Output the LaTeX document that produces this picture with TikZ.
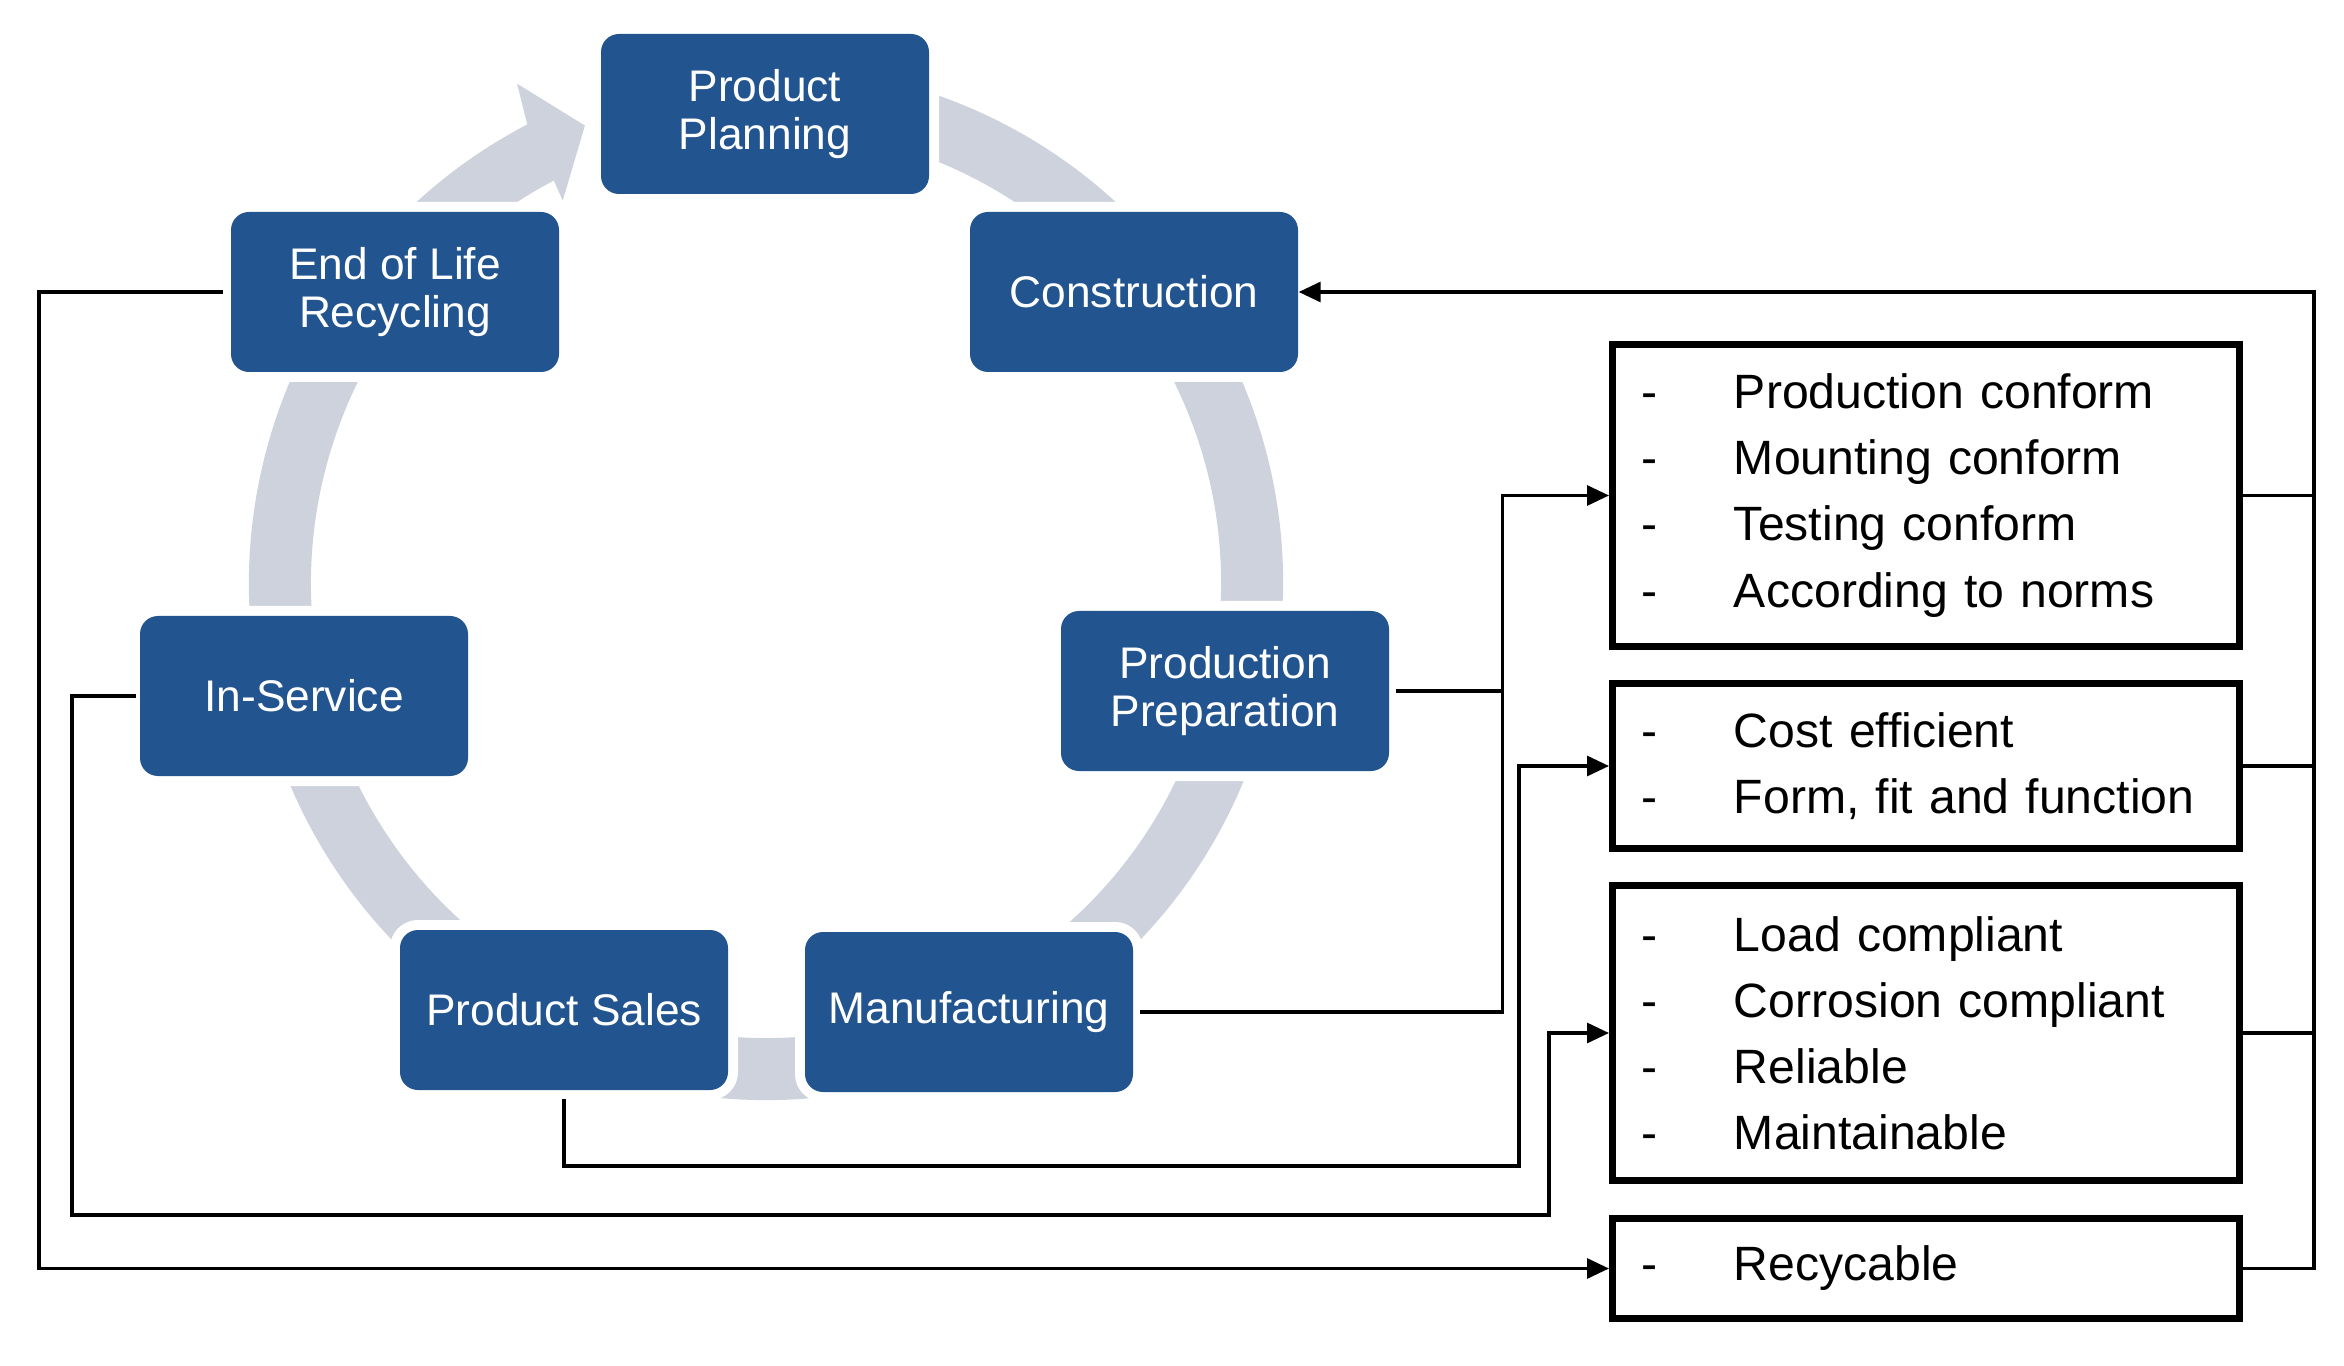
\documentclass[tikz,border=0pt]{standalone}
\usepackage{fontspec}
\setmainfont{Liberation Sans}
\usepackage{tikz}
\usetikzlibrary{arrows.meta}
\definecolor{phase}{RGB}{34, 84, 143}
\definecolor{ringgray}{RGB}{205, 210, 221}

\newcommand{\li}[1]{\makebox[0.93cm][l]{-}#1}

\begin{document}
\begin{tikzpicture}[
  stage/.style={rounded corners=0.18cm, fill=phase, preaction={draw=white, line width=0.2cm},
    text=white, minimum width=3.28cm, minimum height=1.6cm, align=center,
    font=\fontsize{12.6}{13.8}\selectfont},
  req/.style={draw, line width=2pt, minimum width=6.27cm, text width=5.7cm, align=left,
    font=\fontsize{13.7}{18.8}\selectfont},
  link/.style={line width=0.9pt, >={Triangle[length=0.22cm, width=0.2cm]}}
]
  \useasboundingbox (0, 0) rectangle (23.44, -13.66);

  \begin{scope}[shift={(7.66, -5.83)}]
    \fill[ringgray] (75:5.17) arc[start angle=75, end angle=-242.5, radius=5.17]
      -- (116.5:5.58) -- (111.6:4.92) -- (118:4.33) -- (117.8:4.55)
      arc[start angle=117.8, end angle=435, radius=4.55] -- cycle;
  \end{scope}

  \node[stage] (plan) at (7.65, -1.14) {Product\\Planning};
  \node[stage] (constr) at (11.34, -2.92) {Construction};
  \node[stage] (prep) at (12.25, -6.91) {Production\\Preparation};
  \node[stage] (manuf) at (9.69, -10.12) {Manufacturing};
  \node[stage] (sales) at (5.64, -10.10) {Product Sales};
  \node[stage] (service) at (3.04, -6.96) {In-Service};
  \node[stage] (eol) at (3.95, -2.92) {End of Life\\Recycling};

  \node[req, minimum height=3.02cm] (prodreq) at (19.26, -4.955)
    {\li{Production conform}\\\li{Mounting conform}\\\li{Testing conform}\\\li{According to norms}};
  \node[req, minimum height=1.65cm] (costreq) at (19.26, -7.66)
    {\li{Cost efficient}\\\li{Form, fit and function}};
  \node[req, minimum height=2.95cm] (loadreq) at (19.26, -10.33)
    {\li{Load compliant}\\\li{Corrosion compliant}\\\li{Reliable}\\\li{Maintainable}};
  \node[req, minimum height=1.0cm] (recreq) at (19.26, -12.685)
    {\li{Recycable}};

  \coordinate (jprep) at ([xshift=1.13cm]prep.east);
  \coordinate (jsales) at (15.19, -11.66);
  \coordinate (wserv) at (0.72, -12.15);
  \coordinate (jserv) at (15.49, -12.15);
  \coordinate (weol) at (0.39, -12.68);
  \coordinate (jback) at (23.14, -2.92);

  \draw[link, ->, shorten <=0.06cm] (prep.east) -- (jprep) |- (prodreq.west);
  \draw[link, shorten <=0.06cm] (manuf.east) -| (jprep);
  \draw[link, ->, shorten <=0.08cm] (sales.south) |- (jsales) |- (costreq.west);
  \draw[link, ->, shorten <=0.03cm] (service.west) -| (wserv) -- (jserv) |- (loadreq.west);
  \draw[link, ->, shorten <=0.07cm] (eol.west) -| (weol) |- (recreq.west);

  \foreach \r in {prodreq, costreq, loadreq} {
    \draw[link] (\r.east) -- (\r.east -| jback);
  }
  \draw[link, ->] (recreq.east) -| (jback) -- (constr.east);

\end{tikzpicture}
\end{document}
